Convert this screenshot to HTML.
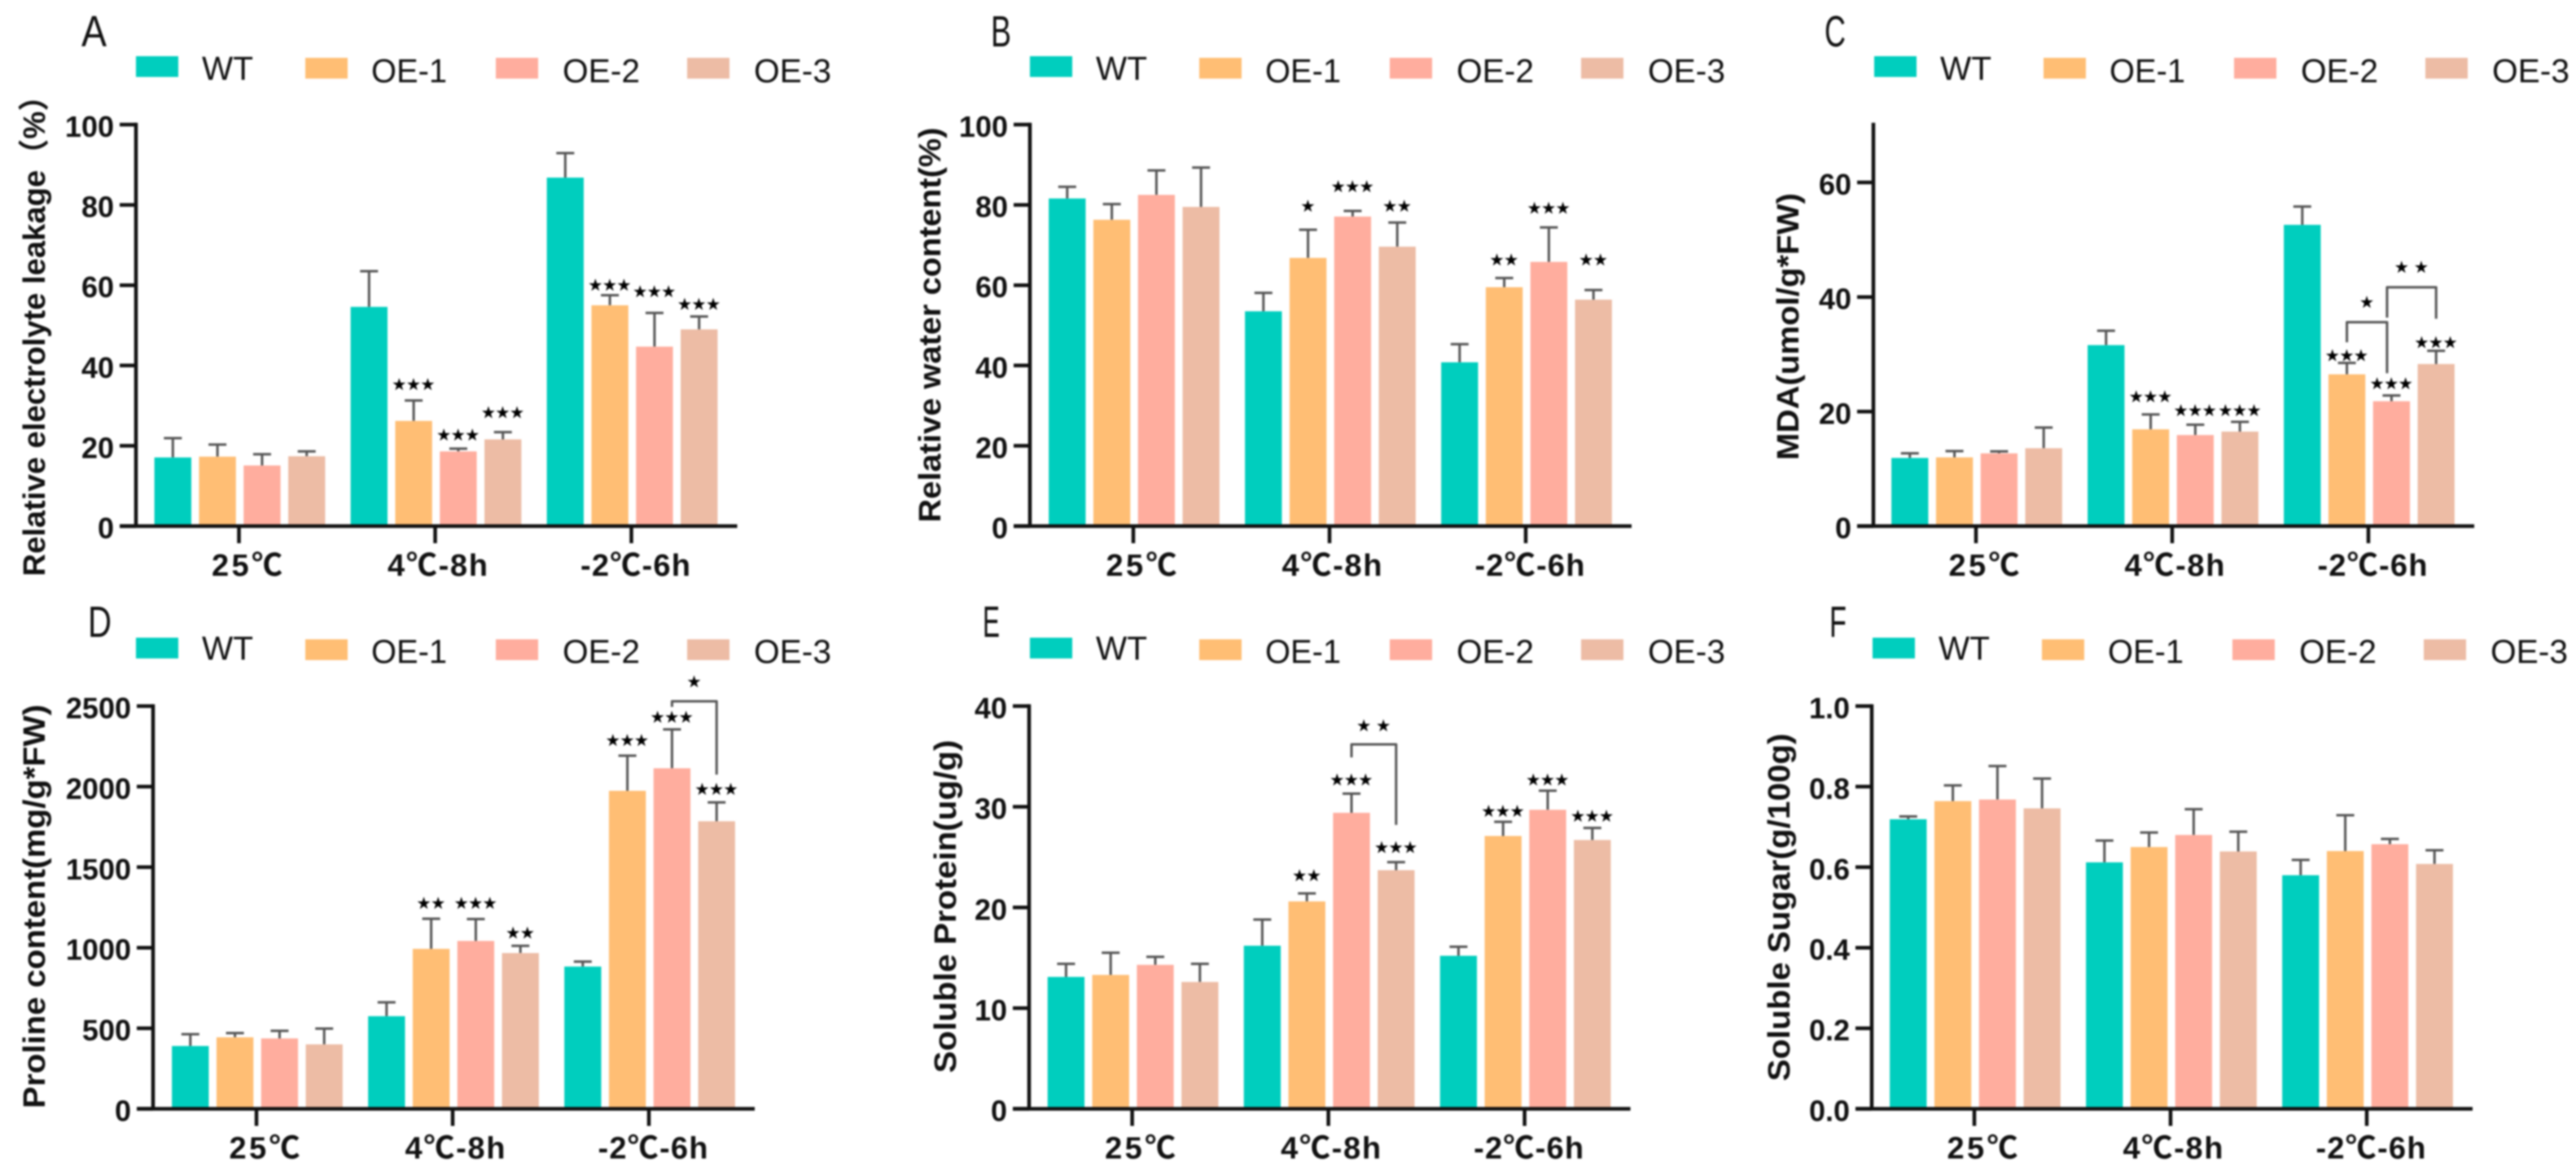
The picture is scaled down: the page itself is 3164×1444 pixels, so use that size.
<!DOCTYPE html>
<html>
<head>
<meta charset="utf-8">
<title>Cold stress physiology bar charts</title>
<style>
html,body{margin:0;padding:0;background:#fff;width:3164px;height:1444px;overflow:hidden}
svg{display:block;filter:blur(1px)}
text{font-family:"Liberation Sans","Noto Sans CJK SC",sans-serif;fill:#111}
text.sig{font-family:"DejaVu Sans",sans-serif;font-size:19px;letter-spacing:0.5px;fill:#000;stroke:#000;stroke-width:0.4px}
</style>
</head>
<body>
<svg id="figure" xmlns="http://www.w3.org/2000/svg" width="3164" height="1444" viewBox="0 0 3164 1444"></svg>
<script>
// ---- shared categories ----
const categories = ['25℃', '4℃-8h', '-2℃-6h'];
const seriesNames = ['WT', 'OE-1', 'OE-2', 'OE-3'];

// ---- Panel A: relative electrolyte leakage ----
const aTicks = [0, 20, 40, 60, 80, 100];
const aMeans = [[17.1, 17.3, 15.1, 17.4], [54.6, 26.2, 18.6, 21.6], [86.8, 55.0, 44.7, 49.0]];
const aUppers = [[21.9, 20.3, 17.9, 18.6], [63.5, 31.3, 19.3, 23.4], [92.9, 57.5, 53.1, 52.2]];
const aStars = [[1, 1, '★★★', 35.6], [1, 2, '★★★', 23], [1, 3, '★★★', 28.6], [2, 1, '★★★', 60.3], [2, 2, '★★★', 58.7], [2, 3, '★★★', 55.6]];
const aBrackets = [];

// ---- Panel B: relative water content ----
const bTicks = [0, 20, 40, 60, 80, 100];
const bMeans = [[81.6, 76.3, 82.5, 79.5], [53.5, 66.8, 77.1, 69.6], [40.8, 59.5, 65.8, 56.4]];
const bUppers = [[84.5, 80.2, 88.6, 89.3], [58.1, 73.8, 78.5, 75.6], [45.3, 61.8, 74.4, 58.8]];
const bStars = [[1, 1, '★', 80], [1, 2, '★★★', 84.9], [1, 3, '★★', 80], [2, 1, '★★', 66.6], [2, 2, '★★★', 79.5], [2, 3, '★★', 66.6]];
const bBrackets = [];

// ---- Panel C: MDA ----
const cTicks = [0, 20, 40, 60];
const cMeans = [[11.9, 12.0, 12.7, 13.6], [31.6, 16.9, 15.9, 16.5], [52.6, 26.5, 21.8, 28.3]];
const cUppers = [[12.7, 13.1, 13.05, 17.2], [34.1, 19.5, 17.7, 18.2], [55.8, 28.5, 22.8, 30.6]];
const cStars = [[1, 1, '★★★', 22.8], [1, 2, '★★★', 20.4], [1, 3, '★★★', 20.4], [2, 1, '★★★', 30], [2, 2, '★★★', 25.1], [2, 3, '★★★', 32.3]];
// group, left series, right series, top value, left foot, right foot, label, label value
const cBrackets = [[2, 1, 1.9, 35.6, 32.1, 26.7, '★', 39.3], [2, 1.9, 3, 41.7, 36.4, 36.2, '★ ★', 45.4]];

// ---- Panel D: proline ----
const dTicks = [0, 500, 1000, 1500, 2000, 2500];
const dMeans = [[390, 444, 437, 400], [575, 993, 1042, 967], [883, 1974, 2114, 1785]];
const dUppers = [[463, 470, 484, 498], [661, 1180, 1178, 1012], [914, 2192, 2355, 1902]];
const dStars = [[1, 1, '★★', 1285], [1, 2, '★★★', 1285], [1, 3, '★★', 1100], [2, 1, '★★★', 2294], [2, 2, '★★★', 2439], [2, 3, '★★★', 1991]];
const dBrackets = [[2, 2, 3, 2530, 2495, 2075, '★', 2659]];

// ---- Panel E: soluble protein ----
const eTicks = [0, 10, 20, 30, 40];
const eMeans = [[13.1, 13.3, 14.3, 12.6], [16.2, 20.6, 29.4, 23.7], [15.2, 27.1, 29.7, 26.7]];
const eUppers = [[14.4, 15.5, 15.1, 14.4], [18.8, 21.4, 31.3, 24.5], [16.1, 28.5, 31.6, 27.9]];
const eStars = [[1, 1, '★★', 23.3], [1, 2, '★★★', 32.8], [1, 3, '★★★', 26.1], [2, 1, '★★★', 29.7], [2, 2, '★★★', 32.8], [2, 3, '★★★', 29.2]];
const eBrackets = [[1, 2, 3, 36.2, 34.9, 28.2, '★ ★', 38.2]];

// ---- Panel F: soluble sugar ----
const fTicks = [0, 0.2, 0.4, 0.6, 0.8, 1.0];
const fMeans = [[0.719, 0.764, 0.768, 0.746], [0.612, 0.650, 0.680, 0.639], [0.580, 0.640, 0.657, 0.608]];
const fUppers = [[0.726, 0.803, 0.851, 0.820], [0.666, 0.686, 0.744, 0.688], [0.618, 0.729, 0.670, 0.642]];
const fStars = [];
const fBrackets = [];

// ---- layout (pixels and styling only) ----
const barColors = ['#00CEBE', '#FFBE74', '#FFAD9E', '#EDBCA5'];
const NS = 'http://www.w3.org/2000/svg';
const root = document.getElementById('figure');
const BAR_STEP = 54.8, BAR_W = 45.3, GROUP_STEP = 241, AXIS_LW = 4.5, INK = '#111', ERR = '#555';

const panels = [
  {id:'a', letter:'A', letterBox:[100,57,31], x0:167, bottom:646, topPx:153, maxV:100, fmt:v=>String(v), tick0:293.5,
   legendX:167, legendY:[69,71], legendTextY:[83,86], title:'Relative electrolyte leakage（%）', titleX:41, titleMid:403, titleLen:609,
   ticks:aTicks, means:aMeans, uppers:aUppers, stars:aStars, brackets:aBrackets},
  {id:'b', letter:'B', letterBox:[1217,57,25], x0:1265, bottom:646, topPx:153, maxV:100, fmt:v=>String(v), tick0:1392,
   legendX:1265, legendY:[69,71], legendTextY:[83,86], title:'Relative water content(%)', titleX:1141, titleMid:399, titleLen:485,
   ticks:bTicks, means:bMeans, uppers:bUppers, stars:bStars, brackets:bBrackets},
  {id:'c', letter:'C', letterBox:[2241,57,26], x0:2301, bottom:646, topPx:153, maxV:70.1, fmt:v=>String(v), tick0:2427,
   legendX:2302, legendY:[69,71], legendTextY:[83,86], title:'MDA(umol/g*FW)', titleX:2195, titleMid:401, titleLen:328,
   ticks:cTicks, means:cMeans, uppers:cUppers, stars:cStars, brackets:cBrackets},
  {id:'d', letter:'D', letterBox:[108,782,29], x0:188, bottom:1361.5, topPx:867, maxV:2500, fmt:v=>String(v), tick0:315,
   legendX:167, legendY:[783,785], legendTextY:[795,799], title:'Proline content(mg/g*FW)', titleX:41, titleMid:1113, titleLen:496,
   ticks:dTicks, means:dMeans, uppers:dUppers, stars:dStars, brackets:dBrackets},
  {id:'e', letter:'E', letterBox:[1207,782,21], x0:1264, bottom:1361.5, topPx:867, maxV:40, fmt:v=>String(v), tick0:1390.6,
   legendX:1265, legendY:[783,785], legendTextY:[795,799], title:'Soluble Protein(ug/g)', titleX:1160, titleMid:1113, titleLen:409,
   ticks:eTicks, means:eMeans, uppers:eUppers, stars:eStars, brackets:eBrackets},
  {id:'f', letter:'F', letterBox:[2247,782,21], x0:2299, bottom:1361.5, topPx:867, maxV:1, fmt:v=>v.toFixed(1), tick0:2425,
   legendX:2300, legendY:[783,785], legendTextY:[795,799], title:'Soluble Sugar(g/100g)', titleX:2184, titleMid:1114, titleLen:427,
   ticks:fTicks, means:fMeans, uppers:fUppers, stars:fStars, brackets:fBrackets}
];

const legendRectDx = [0, 208, 442, 677];
const legendTextDx = [81, 289, 524, 759];
const legendTextW = [63, 93, 95, 95];
const xLabelW = [87, 123, 135];
const xLabelDx = [10, 3, 5];

function mk(tag, attrs, parent, txt) {
  const el = document.createElementNS(NS, tag);
  for (const k in attrs) el.setAttribute(k, attrs[k]);
  if (txt !== undefined) el.textContent = txt;
  parent.appendChild(el);
  return el;
}

panels.forEach(function (p) {
  const g = mk('g', {}, root);
  
  

  const yScale = v => p.bottom - (v / p.maxV) * (p.bottom - p.topPx);
  const xScale = (gi, si) => p.tick0 + gi * GROUP_STEP + (si - 1.5) * BAR_STEP + 1;

  // panel letter
  const lt = mk('text', {x:p.letterBox[0], y:p.letterBox[1], 'font-size':54, textLength:p.letterBox[2], lengthAdjust:'spacingAndGlyphs'}, g, p.letter);
  
  

  // legend
  seriesNames.forEach(function (name, i) {
    const sw = mk('rect', {x:p.legendX + legendRectDx[i], y:p.legendY[i ? 1 : 0], width:52, height:25.5, fill:barColors[i]}, g);
    
    
    const lb = mk('text', {x:p.legendX + legendTextDx[i], y:p.legendTextY[i ? 1 : 0] + 15, 'font-size':41, textLength:legendTextW[i], lengthAdjust:'spacingAndGlyphs'}, g, name);
    
    
  });

  // bars and error bars
  p.means.forEach(function (row, gi) {
    row.forEach(function (v, si) {
      const cx = xScale(gi, si), y = yScale(v), up = yScale(p.uppers[gi][si]);
      const stem = mk('line', {x1:cx, x2:cx, y1:y, y2:up, stroke:ERR, 'stroke-width':3}, g);
      
      
      const cap = mk('line', {x1:cx - 11, x2:cx + 11, y1:up, y2:up, stroke:ERR, 'stroke-width':3}, g);
      
      
      const bar = mk('rect', {x:cx - BAR_W / 2, y:y, width:BAR_W, height:p.bottom - y, fill:barColors[si]}, g);
      
      
    });
  });

  // significance stars
  p.stars.forEach(function (s) {
    const st = mk('text', {class:'sig', x:xScale(s[0], s[1]), y:yScale(s[3]) + 8, 'text-anchor':'middle'}, g, s[2]);
    
    
  });

  // comparison brackets
  p.brackets.forEach(function (b, i) {
    const xl = xScale(b[0], b[1]), xr = xScale(b[0], b[2]);
    const d = 'M' + xl + ' ' + yScale(b[4]) + 'V' + yScale(b[3]) + 'H' + xr + 'V' + yScale(b[5]);
    const br = mk('path', {d:d, fill:'none', stroke:'#555', 'stroke-width':3, 'stroke-linejoin':'round'}, g);
    
    
    const bl = mk('text', {class:'sig', x:(xl + xr) / 2, y:yScale(b[7]) + 8, 'text-anchor':'middle'}, g, b[6]);
    
    
  });

  // axes
  const yAxis = mk('line', {x1:p.x0, x2:p.x0, y1:p.topPx - AXIS_LW / 2, y2:p.bottom, stroke:INK, 'stroke-width':AXIS_LW}, g);
  
  
  const xAxis = mk('line', {x1:p.x0 - 20, x2:p.tick0 + 2 * GROUP_STEP + 130, y1:p.bottom, y2:p.bottom, stroke:INK, 'stroke-width':AXIS_LW}, g);
  
  

  // y ticks
  p.ticks.forEach(function (v) {
    const y = yScale(v);
    const tm = mk('line', {x1:p.x0 - 20, x2:p.x0, y1:y, y2:y, stroke:INK, 'stroke-width':AXIS_LW}, g);
    
    
    const tl = mk('text', {x:p.x0 - 27, y:y + 15, 'font-size':36, 'font-weight':'bold', 'text-anchor':'end'}, g, p.fmt(v));
    
    
  });

  // x ticks
  categories.forEach(function (c, i) {
    const x = p.tick0 + i * GROUP_STEP;
    const tm = mk('line', {x1:x, x2:x, y1:p.bottom, y2:p.bottom + 21, stroke:INK, 'stroke-width':AXIS_LW}, g);
    
    
    const tl = mk('text', {x:x + xLabelDx[i] - xLabelW[i] / 2, y:p.bottom + 61, 'font-size':38, 'font-weight':'bold', textLength:xLabelW[i], lengthAdjust:'spacing'}, g, c);
    
    
  });

  // y title
  const tt = mk('text', {transform:'translate(' + (p.titleX + 14) + ' ' + p.titleMid + ') rotate(-90)', 'font-size':38, 'font-weight':'bold', 'text-anchor':'middle', textLength:p.titleLen, lengthAdjust:'spacingAndGlyphs'}, g, p.title);
  
  
});
</script>
</body>
</html>
